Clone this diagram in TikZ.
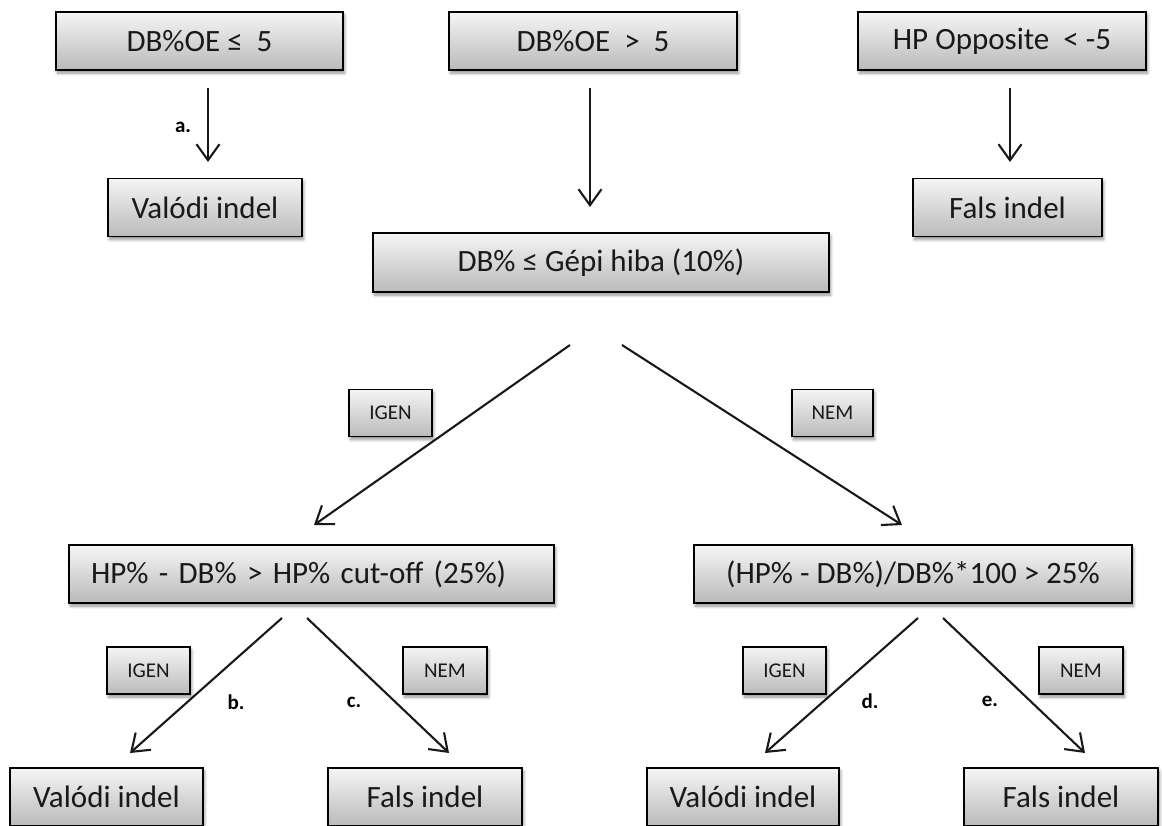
\documentclass[tikz,border=0pt]{standalone}
\usepackage{fontspec}
\setmainfont{Carlito}
\usetikzlibrary{arrows.meta,shadows.blur}
\tikzset{
  box/.style={draw=black, line width=1.9pt, top color=white!96!black, bottom color=black!27,
    blur shadow={shadow blur steps=6, shadow xshift=1.5pt, shadow yshift=-3pt, shadow blur radius=3pt, shadow opacity=45},
    inner sep=0pt, text=black!90, font=\fontsize{31}{31}\selectfont, anchor=center},
  mainbox/.style={box, minimum height=58pt},
  tag/.style={box, line width=1.7pt, minimum width=83pt, minimum height=47pt, font=\fontsize{21}{21}\selectfont},
  letter/.style={font=\bfseries\fontsize{21}{21}\selectfont, inner sep=0pt},
  arr/.style={line width=2.1pt, draw=black!90, -{Straight Barb[length=16pt,width=23pt,line width=2.1pt]}}
}
\begin{document}
\begin{tikzpicture}[x=1pt,y=-1pt]
\useasboundingbox (0,0) rectangle (1162,825);
\clip (0,0) rectangle (1162,825);
% top row
\node[mainbox, minimum width=287pt] (t1) at (199.5,41) {DB\%OE ≤ \ 5};
\node[mainbox, minimum width=288pt] (t2) at (593,41) {DB\%OE \ > \ 5};
\node[mainbox, minimum width=288pt] (t3) at (1002,41) {HP Opposite \ < -5};
\node[mainbox, minimum width=194pt] (v1) at (205,207.5) {Valódi indel};
\node[mainbox, minimum width=189pt] (f1) at (1007.5,207.5) {Fals indel};
\node[mainbox, minimum width=456pt, minimum height=59pt] (g) at (601,262.5) {DB\% ≤ Gépi hiba (10\%)};
% labels
\node[tag, minimum width=83pt] (ig1) at (390.5,413) {IGEN};
\node[tag, minimum width=81pt] (ne1) at (832.5,413) {NEM};
% second level
\node[mainbox, minimum width=485pt, text width=441pt, inner xsep=22pt, align=left] (l) at (311.5,574) {HP\% - DB\% > HP\% cut-off (25\%)};
\node[mainbox, minimum width=438pt] (r) at (913,574) {(HP\% - DB\%)/DB\%*100 > 25\%};
\node[tag] (ig2) at (148.5,670.5) {IGEN};
\node[tag, minimum width=84pt] (ne2) at (445,670.5) {NEM};
\node[tag] (ig3) at (784.5,670.5) {IGEN};
\node[tag, minimum width=84pt] (ne3) at (1081,670.5) {NEM};
% bottom row
\node[mainbox, minimum width=193pt] (v2) at (106.5,797) {Valódi indel};
\node[mainbox, minimum width=194pt] (f2) at (425,797) {Fals indel};
\node[mainbox, minimum width=192pt] (v3) at (743,797) {Valódi indel};
\node[mainbox, minimum width=194pt] (f3) at (1061,797) {Fals indel};
% letters
\node[letter] (la) at (183,127) {a.};
\node[letter] (lb) at (236,702) {b.};
\node[letter] (lc) at (354,702) {c.};
\node[letter] (ld) at (870,701) {d.};
\node[letter] (le) at (990,701) {e.};
% arrow end points
\coordinate (a1s) at (208,88);  \coordinate (a1e) at (208,162);
\coordinate (a2s) at (590,88);  \coordinate (a2e) at (590,207);
\coordinate (a3s) at (1010,88); \coordinate (a3e) at (1010,162);
\coordinate (gls) at (570,345); \coordinate (gle) at (314,525);
\coordinate (grs) at (622,345); \coordinate (gre) at (902,525);
\coordinate (lls) at (282,618); \coordinate (lle) at (130,753);
\coordinate (lrs) at (307,618); \coordinate (lre) at (449,753);
\coordinate (rls) at (918,618); \coordinate (rle) at (765,753);
\coordinate (rrs) at (943,618); \coordinate (rre) at (1085,753);
\draw[arr] (a1s) -- (a1e);
\draw[arr] (a2s) -- (a2e);
\draw[arr] (a3s) -- (a3e);
\draw[arr] (gls) -- (gle);
\draw[arr] (grs) -- (gre);
\draw[arr] (lls) -- (lle);
\draw[arr] (lrs) -- (lre);
\draw[arr] (rls) -- (rle);
\draw[arr] (rrs) -- (rre);
\end{tikzpicture}
\end{document}
